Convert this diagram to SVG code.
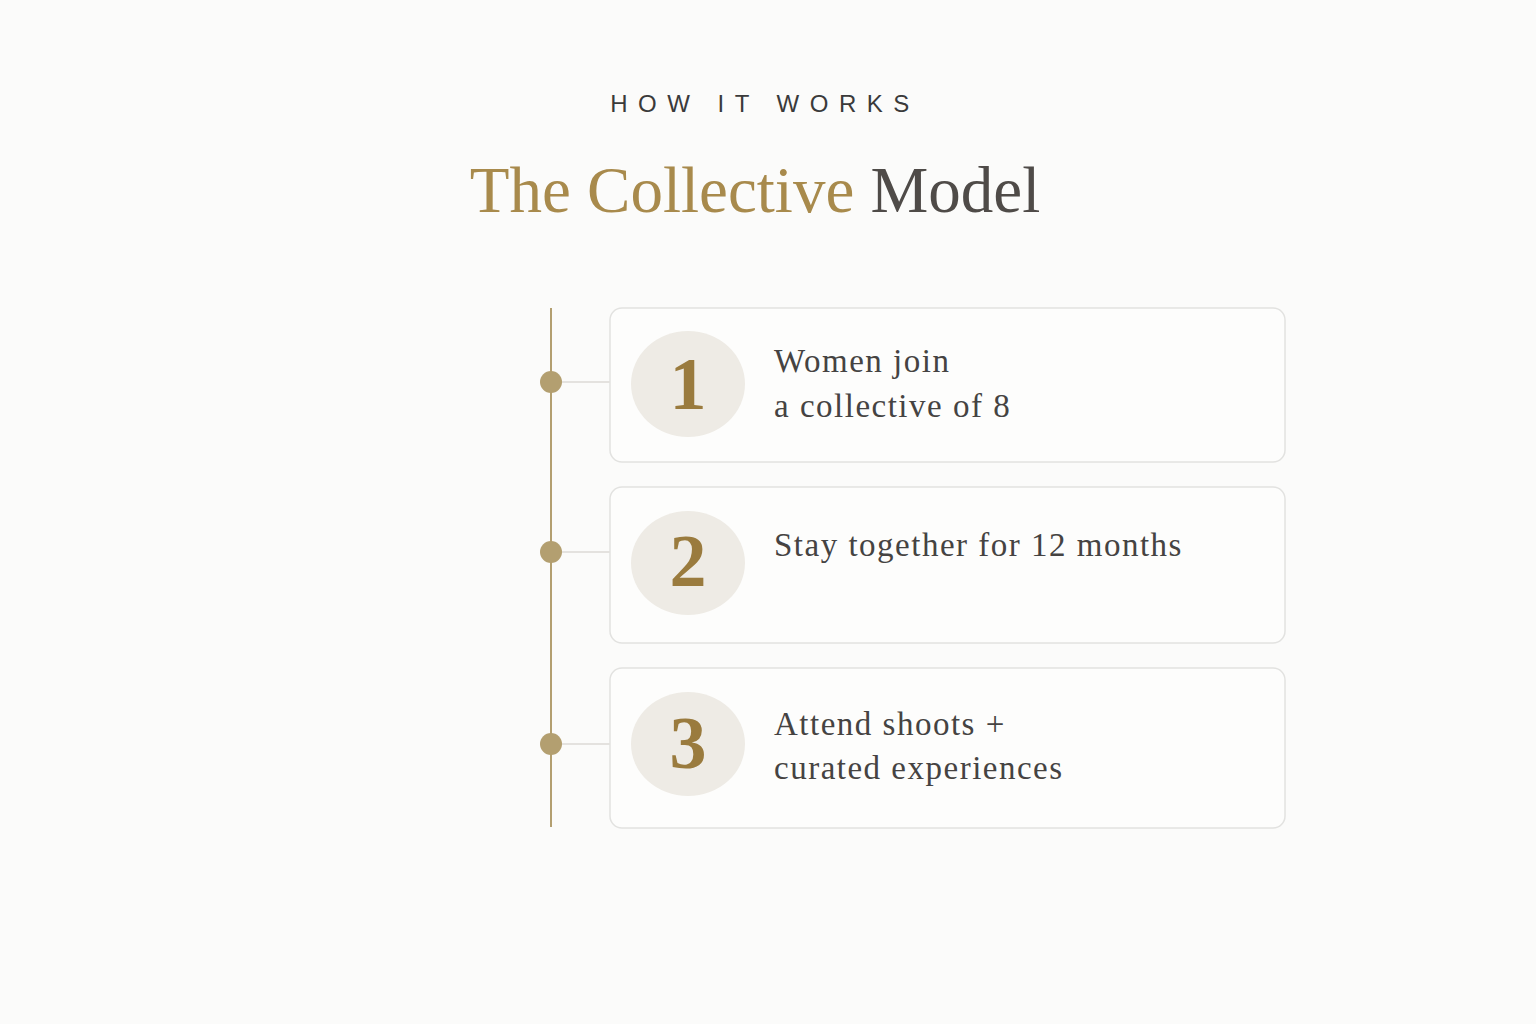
<svg xmlns="http://www.w3.org/2000/svg" width="1536" height="1024" viewBox="0 0 1536 1024">
<style>
.eyebrow{font-family:"Liberation Sans","DejaVu Sans",sans-serif;font-size:24px;letter-spacing:10.5px;fill:#3a3a3a;text-anchor:middle}
.title{font-family:"Liberation Serif","DejaVu Serif",serif;font-size:65px;text-anchor:middle}
.card{fill:#fdfdfc;stroke:#e2e2e0;stroke-width:1.5}
.badge{fill:#eeebe5}
.num{font-family:"Liberation Serif","DejaVu Serif",serif;font-size:74px;fill:#9a7b3e;text-anchor:middle;font-weight:bold}
.label{font-family:"Liberation Serif","DejaVu Serif",serif;font-size:33px;letter-spacing:1.5px;fill:#454342}
.dot{fill:#b39f70}
.conn{stroke:#dcdad6;stroke-width:1.5}
</style>
<rect width="1536" height="1024" fill="#fbfbfa"/>
<text class="eyebrow" x="765" y="112">HOW IT WORKS</text>
<text class="title" x="755" y="212"><tspan fill="#a88a4c">The Collective </tspan><tspan fill="#4f4b48">Model</tspan></text>
<g id="connectors">
<line x1="551" y1="308" x2="551" y2="827" stroke="#b39f70" stroke-width="2"/>
<line class="conn" x1="551" y1="382" x2="610" y2="382"/>
<line class="conn" x1="551" y1="552" x2="610" y2="552"/>
<line class="conn" x1="551" y1="744" x2="610" y2="744"/>
<circle class="dot" cx="551" cy="382" r="11"/>
<circle class="dot" cx="551" cy="552" r="11"/>
<circle class="dot" cx="551" cy="744" r="11"/>
</g>
<g id="step1">
<rect class="card" x="610" y="308" width="675" height="154" rx="12"/>
<ellipse class="badge" cx="688" cy="384" rx="57" ry="53"/>
<text class="num" x="688" y="409">1</text>
<text class="label" x="774" y="372">Women join</text>
<text class="label" x="774" y="417">a collective of 8</text>
</g>
<g id="step2">
<rect class="card" x="610" y="487" width="675" height="156" rx="12"/>
<ellipse class="badge" cx="688" cy="563" rx="57" ry="52"/>
<text class="num" x="688" y="586">2</text>
<text class="label" x="774" y="556">Stay together for 12 months</text>
</g>
<g id="step3">
<rect class="card" x="610" y="668" width="675" height="160" rx="12"/>
<ellipse class="badge" cx="688" cy="744" rx="57" ry="52"/>
<text class="num" x="688" y="768">3</text>
<text class="label" x="774" y="735">Attend shoots +</text>
<text class="label" x="774" y="779">curated experiences</text>
</g>
</svg>
